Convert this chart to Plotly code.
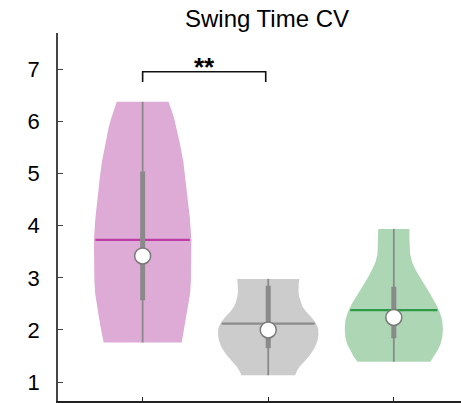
import numpy as np
import plotly.graph_objects as go

# ---------------- data ----------------
positions = [1, 2, 3]
fill_colors = ["#DEAAD6", "#CCCCCC", "#ADD6B5"]
mean_colors = ["#BE3CA5", "#8C8C8C", "#2E9A48"]

# violin density profiles: value levels (ascending) and half-widths (x units)
pink_levels = [1.76, 1.86, 1.96, 2.10, 2.28, 2.50, 2.70, 2.93, 3.30, 3.72, 4.15, 4.59, 4.90, 5.23, 5.55, 5.88, 6.05, 6.20, 6.38]
pink_density = [0.311, 0.318, 0.327, 0.338, 0.351, 0.368, 0.378, 0.384, 0.388, 0.388, 0.376, 0.357, 0.342, 0.324, 0.299, 0.271, 0.252, 0.233, 0.206]

gray_levels = [1.13, 1.18, 1.23, 1.30, 1.36, 1.45, 1.55, 1.67, 1.80, 1.92, 2.03, 2.14, 2.25, 2.35, 2.45, 2.55, 2.64, 2.72, 2.80, 2.90, 2.98]
gray_density = [0.215, 0.221, 0.231, 0.251, 0.275, 0.310, 0.341, 0.372, 0.393, 0.400, 0.398, 0.378, 0.342, 0.302, 0.272, 0.255, 0.246, 0.241, 0.240, 0.243, 0.247]

green_levels = [1.39, 1.50, 1.61, 1.73, 1.86, 2.02, 2.18, 2.34, 2.50, 2.66, 2.82, 2.98, 3.14, 3.30, 3.46, 3.70, 3.94]
green_density = [0.291, 0.322, 0.349, 0.372, 0.386, 0.391, 0.386, 0.366, 0.335, 0.297, 0.255, 0.213, 0.176, 0.146, 0.130, 0.125, 0.124]

levels = [pink_levels, gray_levels, green_levels]
densities = [pink_density, gray_density, green_density]

q1 = [2.57, 1.65, 1.84]
q3 = [5.04, 2.85, 2.83]
medians = [3.42, 2.00, 2.24]
means = [3.73, 2.12, 2.38]

sig_pair = [1, 2]
sig_label = "**"

title_text = "Swing Time CV"
y_ticks = [1, 2, 3, 4, 5, 6, 7]

# ---------------- figure ----------------
fig = go.Figure()

BOX_GRAY = "#8A8A8A"

for i, pos in enumerate(positions):
    lv = np.array(levels[i])
    dn = np.array(densities[i])
    xs = list(pos + dn) + list(pos - dn[::-1])
    ys = list(lv) + list(lv[::-1])
    xs.append(xs[0]); ys.append(ys[0])
    fig.add_trace(go.Scatter(
        x=xs, y=ys, mode="lines", fill="toself",
        fillcolor=fill_colors[i], line=dict(width=0, color=fill_colors[i]),
        hoverinfo="skip", showlegend=False))

for i, pos in enumerate(positions):
    lv = levels[i]
    dn = densities[i]
    hw = float(np.interp(means[i], lv, dn)) * 0.97
    # mean line
    fig.add_trace(go.Scatter(
        x=[pos - hw, pos + hw], y=[means[i], means[i]], mode="lines",
        line=dict(color=mean_colors[i], width=2.2), hoverinfo="skip", showlegend=False))
    # whisker (full range)
    fig.add_trace(go.Scatter(
        x=[pos, pos], y=[lv[0], lv[-1]], mode="lines",
        line=dict(color=BOX_GRAY, width=1.8), hoverinfo="skip", showlegend=False))
    # IQR box
    fig.add_trace(go.Scatter(
        x=[pos, pos], y=[q1[i], q3[i]], mode="lines",
        line=dict(color=BOX_GRAY, width=5), hoverinfo="skip", showlegend=False))
    # median
    fig.add_trace(go.Scatter(
        x=[pos], y=[medians[i]], mode="markers",
        marker=dict(size=16, color="white", line=dict(color="#7A7A7A", width=1.5)),
        hoverinfo="skip", showlegend=False))

# significance bracket
xa, xb = sig_pair[0], sig_pair[1] - 0.02
fig.add_trace(go.Scatter(
    x=[xa, xa, xb, xb], y=[6.76, 6.955, 6.955, 6.76], mode="lines",
    line=dict(color="#111111", width=1.6), hoverinfo="skip", showlegend=False))
fig.add_annotation(x=(xa + xb) / 2, y=6.955, yanchor="bottom", yshift=-12,
                   text="<b>" + sig_label + "</b>", showarrow=False,
                   font=dict(size=26, color="black", family="Liberation Sans, Arial"))

fig.update_layout(
    width=461, height=403,
    margin=dict(l=58, r=0, t=33, b=2),
    paper_bgcolor="white", plot_bgcolor="white",
    title=dict(text=title_text, x=267 / 461, xref="container", xanchor="center",
               y=1 - 18.5 / 403, yref="container", yanchor="middle",
               font=dict(size=24, color="black", family="Liberation Sans, Arial")),
    font=dict(family="Liberation Sans, Arial", color="black"),
)
fig.update_xaxes(range=[0.326, 3.535], showgrid=False, zeroline=False,
                 showline=True, linecolor="#222222", linewidth=2,
                 ticks="inside", tickvals=positions, ticklen=4, tickcolor="#222222",
                 tickwidth=1.2, showticklabels=False)
fig.update_yaxes(range=[0.636, 7.70], showgrid=False, zeroline=False,
                 showline=True, linecolor="#444444", linewidth=1.6,
                 ticks="inside", tickvals=y_ticks, ticklen=5, tickcolor="#444444",
                 tickwidth=1.2, ticklabelstandoff=12,
                 tickfont=dict(size=22, color="black", family="Liberation Sans, Arial"))

fig.write_html("out.html", config={"displayModeBar": False},
               post_script="document.body.style.margin='0';")
